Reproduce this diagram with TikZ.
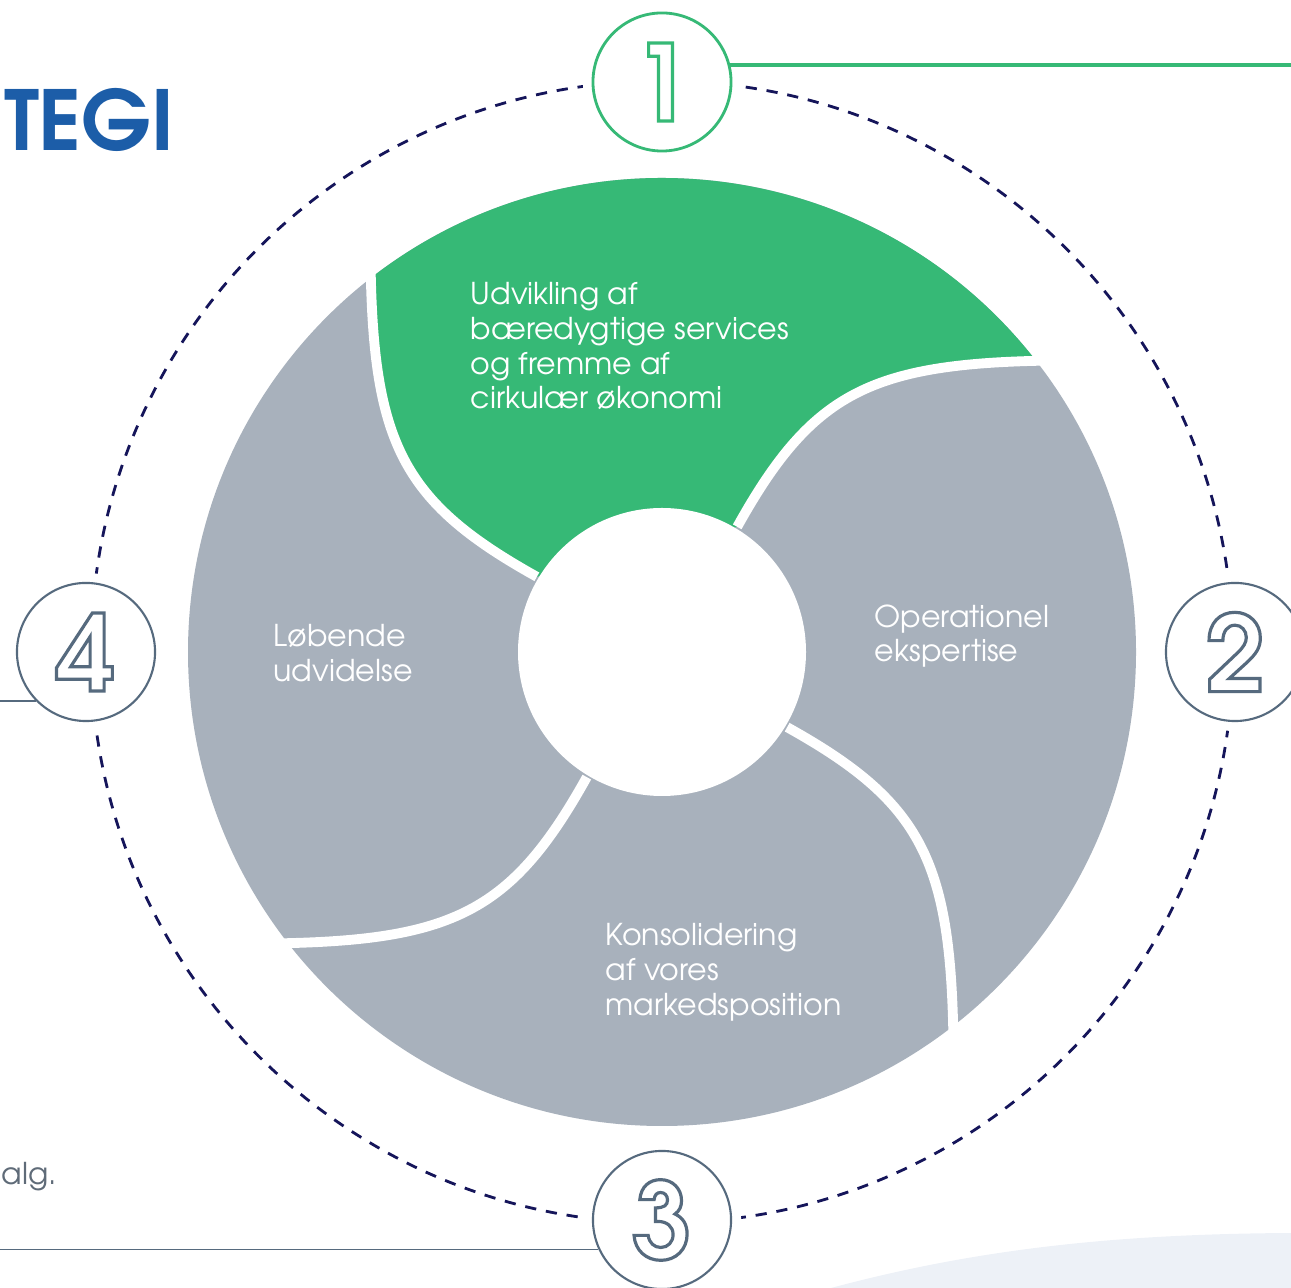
\documentclass[tikz,border=0pt]{standalone}
\usepackage{fontspec}
\setmainfont{TeX Gyre Adventor}
\usetikzlibrary{calc, positioning}
\definecolor{wheelgreen}{HTML}{36B976}
\definecolor{wheelgray}{HTML}{A8B1BC}
\definecolor{slate}{HTML}{566A7E}
\definecolor{navy}{HTML}{15155A}
\definecolor{titleblue}{HTML}{1C5DA8}
\definecolor{paleblue}{HTML}{EDF1F7}
\definecolor{notegray}{HTML}{5F6B78}
% hollow digits (stroked, not filled)
\newcommand{\hollow}[1]{\special{pdf:literal direct 1 Tr 0.9 w}#1%
  \special{pdf:literal direct 0 Tr}}
\tikzset{
  % dashed ring round the wheel
  guide/.style={navy, line width=0.8pt, dash pattern=on 3.2pt off 2.8pt},
  % white cut between two parts of the wheel
  gap/.style={white, line width=2.8pt},
  % text inside the wheel
  label/.style={text=white, align=left, inner sep=0pt,
    font=\fontsize{8.55}{9.85}\selectfont},
  % numbered circles
  numcirc/.style={draw=slate, line width=0.6pt, fill=white, shape=circle,
    minimum size=1.38cm, inner sep=0pt, text=slate,
    font=\fontsize{30}{30}\selectfont\bfseries,
    preaction={draw=white, line width=5.7pt}},
  numgreen/.style={numcirc, draw=wheelgreen, text=wheelgreen, line width=0.8pt},
  % thin rules leading to the circles
  rule/.style={slate, line width=0.5pt},
  greenrule/.style={wheelgreen, line width=1.1pt},
  title/.style={text=titleblue, inner sep=0pt,
    font=\fontsize{23.5}{23.5}\selectfont\bfseries},
  note/.style={text=notegray, inner sep=0pt,
    font=\fontsize{8.55}{9.85}\selectfont},
}
\begin{document}
\begin{tikzpicture}[x=0.01cm, y=0.01cm]
  \useasboundingbox (0,0) rectangle (1291,1288);
  \coordinate (edgeL) at (0,0);
  \coordinate (edgeR) at (1291,0);

  % pale swoosh, bottom right
  \fill[paleblue] (831,0) .. controls (980,40) and (1120,54) .. (1291,55)
  -- (1291,0) -- cycle;

  \coordinate (c) at (662,636);
  \draw[guide] (c) circle [radius=571];

  % the wheel
  \fill[wheelgray] (c) circle [radius=474];
  \begin{scope}[shift={(c)}]
    \fill[wheelgreen] (127.9:474) arc [start angle=127.9, end angle=37.9, radius=474]
    .. controls (205,287) and (148,256) .. (59:146) -- (149:146)
    .. controls (-256,148) and (-287,205) .. (127.9:474) -- cycle;
    \foreach \a in {0,-90,-180,-270}
      \draw[gap, rotate=\a] (59:146) .. controls (148,256) and (205,287)
      .. (37.9:474) -- ++(20,1);
  \end{scope}
  \fill[white] (c) circle [radius=144];

  \node[label, anchor=north west] (sustain) at (470,1006)
  {Udvikling af\\bæredygtige services\\og fremme af\\cirkulær økonomi};
  \node[label, anchor=north west] (expert) at (874,684)
  {Operationel\\ekspertise};
  \node[label, anchor=north west] (growth) at (273,664)
  {Løbende\\udvidelse};
  \node[label, anchor=north west] (market) at (605,365)
  {Konsolidering\\af vores\\markedsposition};

  % numbered circles on the ring
  \node[numgreen] (n1) at (662,1206) {\hollow{1}};
  \node[numcirc] (n2) at (1235,636) {\hollow{2}};
  \node[numcirc] (n3) at (662,68) {\hollow{3}};
  \node[numcirc] (n4) at (86,636) {\hollow{4}};

  \draw[greenrule] (n1.14) -- (n1.14 -| edgeR);
  \draw[rule] (n4.224) -- (n4.224 -| edgeL);
  \draw[rule] (n3.205) -- (n3.205 -| edgeL);

  \node[title, anchor=north east] (title) at (175,1200) {TEGI};
  \node[note, anchor=north west] (note) at (1,126) {alg.};
\end{tikzpicture}
\end{document}
